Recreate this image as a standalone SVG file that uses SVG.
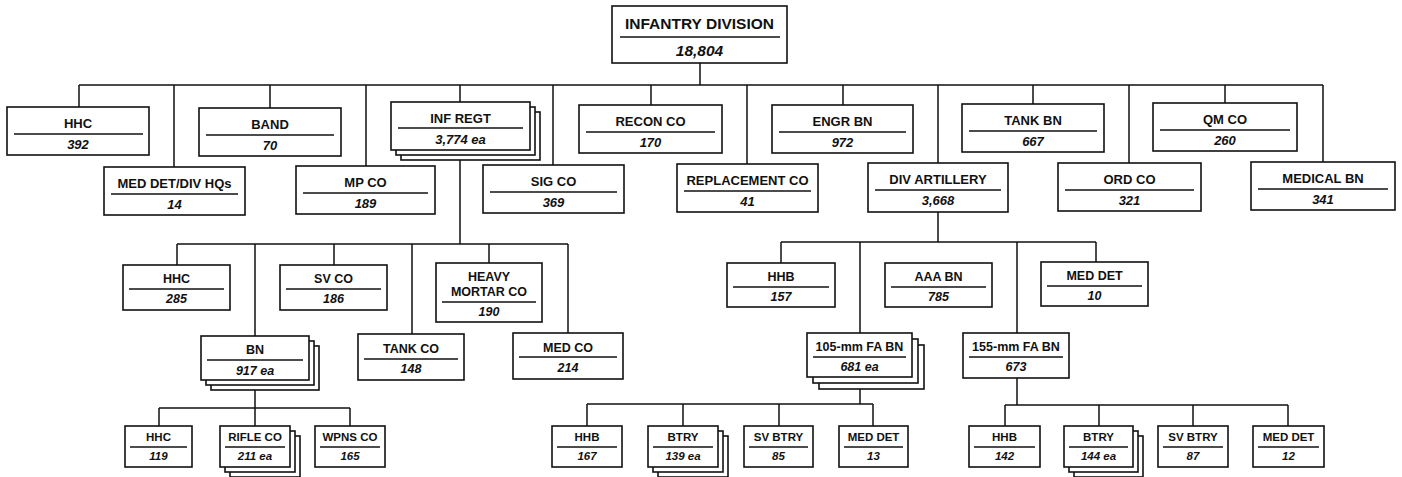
<svg xmlns="http://www.w3.org/2000/svg" width="1402" height="477" viewBox="0 0 1402 477">
<style>
rect{fill:#fff;stroke:#111;stroke-width:1.6}
.dv{stroke:#111;stroke-width:1.5;fill:none}
#connectors path{stroke:#111;stroke-width:1.5;fill:none}
text{font-family:"Liberation Sans",Arial,sans-serif;font-weight:bold;fill:#111;text-anchor:middle}
.n{font-style:italic}
.t0{font-size:15.5px}
.t1{font-size:13px}
.t2{font-size:12.5px}
.t3{font-size:11.5px}
</style>
<rect x="0" y="0" width="1402" height="477" style="stroke:none"/>
<g id="connectors">
<path d="M700 63V85M79 85H1323M79 85V107M174 85V167M270 85V108M366 85V166M460 85V102M553 85V165M651 85V105M747 85V164M843 85V105M938 85V163M1033 85V104M1129 85V163M1225 85V103M1323 85V162"/>
<path d="M460 150V244M177 244H568M177 244V265M255 244V336M334 244V265M412 244V334M489 244V263M568 244V333"/>
<path d="M255 380V408M159 408H350M159 408V426M255 408V426M350 408V426"/>
<path d="M938 212V242M781 242H1096M781 242V263M860 242V333M1017 242V333M1096 242V262"/>
<path d="M860 377V404M587 404H873M587 404V426M683 404V426M779 404V426M873 404V426"/>
<path d="M1017 378V405M1005 405H1288M1005 405V426M1099 405V426M1193 405V426M1288 405V426"/>
</g>
<g id="inf-div"><rect x="612" y="6" width="175" height="57"/><text class="t0" x="699.5" y="29">INFANTRY DIVISION</text><path class="dv" d="M620 37H780"/><text class="t0 n" x="699.5" y="56">18,804</text></g>
<g id="hhc"><rect x="7" y="107" width="142" height="48"/><text class="t1" x="78" y="128">HHC</text><path class="dv" d="M14 134H143"/><text class="t1 n" x="78" y="149">392</text></g>
<g id="band"><rect x="199" y="108" width="142" height="48"/><text class="t1" x="270" y="129">BAND</text><path class="dv" d="M206 135H334"/><text class="t1 n" x="270" y="150">70</text></g>
<g id="inf-regt"><rect x="401" y="112" width="139" height="48"/><rect x="396" y="107" width="139" height="48"/><rect x="391" y="102" width="139" height="48"/><text class="t1" x="460.5" y="123">INF REGT</text><path class="dv" d="M398 128H523"/><text class="t1 n" x="460.5" y="144">3,774 ea</text></g>
<g id="recon-co"><rect x="579" y="105" width="143" height="48"/><text class="t1" x="650.5" y="126">RECON CO</text><path class="dv" d="M586 132H715"/><text class="t1 n" x="650.5" y="147">170</text></g>
<g id="engr-bn"><rect x="772" y="105" width="141" height="48"/><text class="t1" x="842.5" y="126">ENGR BN</text><path class="dv" d="M779 132H906"/><text class="t1 n" x="842.5" y="147">972</text></g>
<g id="tank-bn"><rect x="962" y="104" width="142" height="48"/><text class="t1" x="1033" y="125">TANK BN</text><path class="dv" d="M969 131H1097"/><text class="t1 n" x="1033" y="146">667</text></g>
<g id="qm-co"><rect x="1153" y="103" width="144" height="48"/><text class="t1" x="1225" y="124">QM CO</text><path class="dv" d="M1160 130H1290"/><text class="t1 n" x="1225" y="145">260</text></g>
<g id="med-det-div"><rect x="104" y="167" width="141" height="48"/><text class="t1" x="174.5" y="188">MED DET/DIV HQs</text><path class="dv" d="M111 194H238"/><text class="t1 n" x="174.5" y="209">14</text></g>
<g id="mp-co"><rect x="296" y="166" width="139" height="48"/><text class="t1" x="365.5" y="187">MP CO</text><path class="dv" d="M303 193H428"/><text class="t1 n" x="365.5" y="208">189</text></g>
<g id="sig-co"><rect x="483" y="165" width="141" height="48"/><text class="t1" x="553.5" y="186">SIG CO</text><path class="dv" d="M490 192H617"/><text class="t1 n" x="553.5" y="207">369</text></g>
<g id="repl-co"><rect x="677" y="164" width="141" height="48"/><text class="t1" x="747.5" y="185">REPLACEMENT CO</text><path class="dv" d="M684 191H811"/><text class="t1 n" x="747.5" y="206">41</text></g>
<g id="div-arty"><rect x="868" y="163" width="140" height="49"/><text class="t1" x="938" y="184">DIV ARTILLERY</text><path class="dv" d="M875 190H1001"/><text class="t1 n" x="938" y="205">3,668</text></g>
<g id="ord-co"><rect x="1058" y="163" width="143" height="48"/><text class="t1" x="1129.5" y="184">ORD CO</text><path class="dv" d="M1065 190H1194"/><text class="t1 n" x="1129.5" y="205">321</text></g>
<g id="medical-bn"><rect x="1251" y="162" width="144" height="48"/><text class="t1" x="1323" y="183">MEDICAL BN</text><path class="dv" d="M1258 189H1388"/><text class="t1 n" x="1323" y="204">341</text></g>
<g id="regt-hhc"><rect x="123" y="265" width="107" height="45"/><text class="t2" x="176.5" y="283">HHC</text><path class="dv" d="M129 289H224"/><text class="t2 n" x="176.5" y="303">285</text></g>
<g id="sv-co"><rect x="280" y="265" width="107" height="45"/><text class="t2" x="333.5" y="283">SV CO</text><path class="dv" d="M286 289H381"/><text class="t2 n" x="333.5" y="303">186</text></g>
<g id="hvy-mtr-co"><rect x="436" y="263" width="106" height="59"/><text class="t2" x="489" y="281">HEAVY</text><text class="t2" x="489" y="296">MORTAR CO</text><path class="dv" d="M442 302H536"/><text class="t2 n" x="489" y="316">190</text></g>
<g id="bn"><rect x="211" y="346" width="108" height="44"/><rect x="206" y="341" width="108" height="44"/><rect x="201" y="336" width="108" height="44"/><text class="t2" x="255" y="354">BN</text><path class="dv" d="M207 360H303"/><text class="t2 n" x="255" y="375">917 ea</text></g>
<g id="tank-co"><rect x="358" y="334" width="106" height="46"/><text class="t2" x="411" y="353">TANK CO</text><path class="dv" d="M364 359H458"/><text class="t2 n" x="411" y="373">148</text></g>
<g id="med-co"><rect x="513" y="333" width="110" height="46"/><text class="t2" x="568" y="352">MED CO</text><path class="dv" d="M519 357H617"/><text class="t2 n" x="568" y="372">214</text></g>
<g id="arty-hhb"><rect x="727" y="263" width="108" height="44"/><text class="t2" x="781" y="281">HHB</text><path class="dv" d="M733 287H829"/><text class="t2 n" x="781" y="301">157</text></g>
<g id="aaa-bn"><rect x="885" y="263" width="107" height="44"/><text class="t2" x="938.5" y="281">AAA BN</text><path class="dv" d="M891 287H986"/><text class="t2 n" x="938.5" y="301">785</text></g>
<g id="arty-med-det"><rect x="1041" y="262" width="107" height="44"/><text class="t2" x="1094.5" y="280">MED DET</text><path class="dv" d="M1047 286H1142"/><text class="t2 n" x="1094.5" y="300">10</text></g>
<g id="fa-105"><rect x="819" y="345" width="105" height="44"/><rect x="813" y="339" width="105" height="44"/><rect x="807" y="333" width="105" height="44"/><text class="t2" x="859.5" y="351">105-mm FA BN</text><path class="dv" d="M813 357H906"/><text class="t2 n" x="859.5" y="371">681 ea</text></g>
<g id="fa-155"><rect x="963" y="333" width="106" height="45"/><text class="t2" x="1016" y="351">155-mm FA BN</text><path class="dv" d="M969 357H1063"/><text class="t2 n" x="1016" y="371">673</text></g>
<g id="bn-hhc"><rect x="125" y="426" width="67" height="41"/><text class="t3" x="158.5" y="441">HHC</text><path class="dv" d="M130 447H187"/><text class="t3 n" x="158.5" y="460">119</text></g>
<g id="rifle-co"><rect x="230" y="436" width="70" height="41"/><rect x="225" y="431" width="70" height="41"/><rect x="220" y="426" width="70" height="41"/><text class="t3" x="255" y="441">RIFLE CO</text><path class="dv" d="M225 447H285"/><text class="t3 n" x="255" y="460">211 ea</text></g>
<g id="wpns-co"><rect x="315" y="426" width="70" height="41"/><text class="t3" x="350" y="441">WPNS CO</text><path class="dv" d="M320 447H380"/><text class="t3 n" x="350" y="460">165</text></g>
<g id="b105-hhb"><rect x="552" y="426" width="70" height="41"/><text class="t3" x="587" y="441">HHB</text><path class="dv" d="M557 447H617"/><text class="t3 n" x="587" y="460">167</text></g>
<g id="b105-btry"><rect x="658" y="436" width="70" height="41"/><rect x="653" y="431" width="70" height="41"/><rect x="648" y="426" width="70" height="41"/><text class="t3" x="683" y="441">BTRY</text><path class="dv" d="M653 447H713"/><text class="t3 n" x="683" y="460">139 ea</text></g>
<g id="b105-sv"><rect x="744" y="426" width="69" height="41"/><text class="t3" x="778.5" y="441">SV BTRY</text><path class="dv" d="M749 447H808"/><text class="t3 n" x="778.5" y="460">85</text></g>
<g id="b105-med"><rect x="839" y="426" width="69" height="41"/><text class="t3" x="873.5" y="441">MED DET</text><path class="dv" d="M844 447H903"/><text class="t3 n" x="873.5" y="460">13</text></g>
<g id="b155-hhb"><rect x="969" y="426" width="71" height="41"/><text class="t3" x="1004.5" y="441">HHB</text><path class="dv" d="M974 447H1035"/><text class="t3 n" x="1004.5" y="460">142</text></g>
<g id="b155-btry"><rect x="1074" y="436" width="69" height="41"/><rect x="1069" y="431" width="69" height="41"/><rect x="1064" y="426" width="69" height="41"/><text class="t3" x="1098.5" y="441">BTRY</text><path class="dv" d="M1069 447H1128"/><text class="t3 n" x="1098.5" y="460">144 ea</text></g>
<g id="b155-sv"><rect x="1158" y="426" width="70" height="41"/><text class="t3" x="1193" y="441">SV BTRY</text><path class="dv" d="M1163 447H1223"/><text class="t3 n" x="1193" y="460">87</text></g>
<g id="b155-med"><rect x="1253" y="426" width="71" height="41"/><text class="t3" x="1288.5" y="441">MED DET</text><path class="dv" d="M1258 447H1319"/><text class="t3 n" x="1288.5" y="460">12</text></g>
</svg>
